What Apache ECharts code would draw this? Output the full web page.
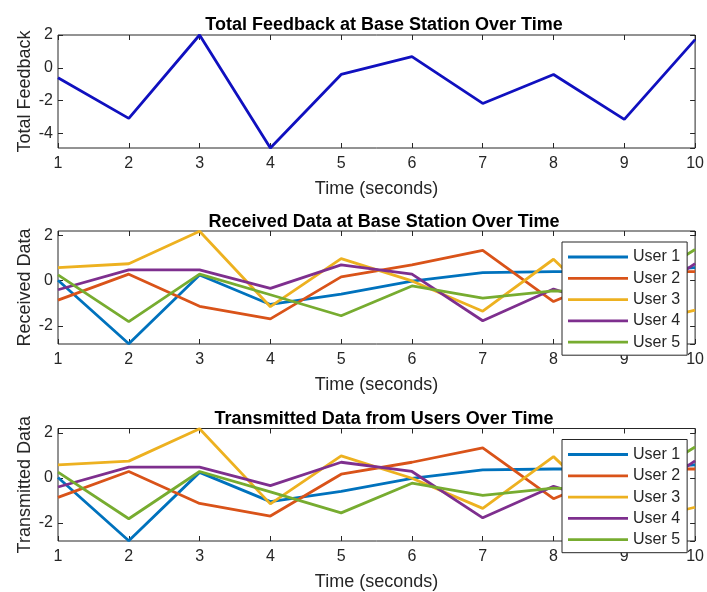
<!DOCTYPE html>
<html>
<head>
<meta charset="utf-8">
<script src="https://cdn.jsdelivr.net/npm/echarts@6/dist/echarts.min.js"></script>
<style>
html,body{margin:0;padding:0;background:#fff;}
#c{width:707px;height:592px;}
</style>
</head>
<body>
<div id="c"></div>
<script>
const time = [1, 2, 3, 4, 5, 6, 7, 8, 9, 10];
const totalFeedback = [-0.61, -3.09, 2.0, -4.9, -0.41, 0.68, -2.18, -0.41, -3.15, 1.72];
const user1 = [0.02, -2.79, 0.25, -1.05, -0.59, -0.02, 0.36, 0.40, 0.40, 0.58];
const user2 = [-0.86, 0.29, -1.13, -1.69, 0.17, 0.70, 1.34, -0.92, 0.40, 0.40];
const user3 = [0.58, 0.75, 2.19, -1.15, 0.98, -0.01, -1.35, 0.95, -2.05, -1.30];
const user4 = [-0.40, 0.48, 0.48, -0.34, 0.70, 0.29, -1.77, -0.37, -1.35, 0.76];
const user5 = [0.26, -1.81, 0.29, -0.62, -1.55, -0.23, -0.77, -0.45, -0.55, 1.38];
const userNames = ['User 1', 'User 2', 'User 3', 'User 4', 'User 5'];
const userColors = ['#0072BD', '#D95319', '#EDB120', '#7E2F8E', '#77AC30'];
const titles = ['Total Feedback at Base Station Over Time', 'Received Data at Base Station Over Time', 'Transmitted Data from Users Over Time'];
const yNames = ['Total Feedback', 'Received Data', 'Transmitted Data'];
const xName = 'Time (seconds)';

const FONT = "'Liberation Sans', Arial, sans-serif";
const AX = '#262626';
const userData = [user1, user2, user3, user4, user5];
const pairs = arr => time.map((t, i) => [t, arr[i]]);

const grids = [
  {left: 58, width: 642, top: 35, height: 113},
  {left: 58, width: 642, top: 231, height: 113},
  {left: 58, width: 642, top: 428.5, height: 113}
];
const yRanges = [[-4.9, 2.0], [-2.8, 2.2], [-2.8, 2.2]];
const titleY = [20, 217.5, 414];

const option = {
  animation: false,
  backgroundColor: '#fff',
  title: titles.map((t, i) => ({
    text: t, left: 379, top: titleY[i] - 11, textAlign: 'center',
    textStyle: {fontFamily: FONT, fontSize: 18, fontWeight: 'bold', color: '#000', lineHeight: 22}
  })),
  grid: grids.map(g => Object.assign({show: true, borderColor: AX, borderWidth: 1, backgroundColor: '#fff', containLabel: false}, g)),
  xAxis: [],
  yAxis: [],
  legend: [231, 428.5].map(top => ({
    data: userNames,
    orient: 'vertical',
    left: 562, top: top + 11,
    icon: 'path://M0,0 L60,0 L60,2.8 L0,2.8 Z',
    itemWidth: 60, itemHeight: 14, itemGap: 5.3,
    padding: [7, 7, 5, 6],
    borderColor: AX, borderWidth: 1, borderRadius: 0,
    backgroundColor: '#fff',
    textStyle: {fontFamily: FONT, fontSize: 16, color: AX},
    selectedMode: false
  })),
  series: []
};

grids.forEach((g, i) => {
  const [ymin, ymax] = yRanges[i];
  const maxIsTick = (ymax % 2 === 0);
  const minIsTick = (ymin % 2 === 0);
  option.xAxis.push({
    type: 'value', gridIndex: i, min: 1, max: 10, interval: 1, position: 'bottom',
    name: xName, nameLocation: 'middle', nameGap: 32, nameMoveOverlap: false,
    nameTextStyle: {fontFamily: FONT, fontSize: 18, color: AX},
    axisLine: {show: false, onZero: false},
    axisTick: {show: true, inside: true, length: 5, lineStyle: {color: AX}},
    axisLabel: {margin: 8, fontFamily: FONT, fontSize: 16, color: AX},
    splitLine: {show: false}
  });
  option.xAxis.push({
    type: 'value', gridIndex: i, min: 1, max: 10, interval: 1, position: 'top',
    axisLine: {show: false, onZero: false},
    axisTick: {show: true, inside: true, length: 5, lineStyle: {color: AX}},
    axisLabel: {show: false}, splitLine: {show: false}
  });
  option.yAxis.push({
    type: 'value', gridIndex: i, min: ymin, max: ymax, splitNumber: 3, position: 'left',
    name: yNames[i], nameLocation: 'middle', nameGap: 24, nameRotate: 90, nameMoveOverlap: false,
    nameTextStyle: {fontFamily: FONT, fontSize: 18, color: AX},
    axisLine: {show: false, onZero: false},
    axisTick: {show: true, inside: true, length: 5, lineStyle: {color: AX}},
    axisLabel: {margin: 5, fontFamily: FONT, fontSize: 16, color: AX, showMinLabel: minIsTick, showMaxLabel: maxIsTick},
    splitLine: {show: false}
  });
  option.yAxis.push({
    type: 'value', gridIndex: i, min: ymin, max: ymax, splitNumber: 3, position: 'right',
    axisLine: {show: false, onZero: false},
    axisTick: {show: true, inside: true, length: 5, lineStyle: {color: AX}},
    axisLabel: {show: false}, splitLine: {show: false}
  });
});

option.series.push({
  type: 'line', name: 'Total Feedback', xAxisIndex: 0, yAxisIndex: 0,
  data: pairs(totalFeedback), symbol: 'none',
  lineStyle: {color: '#1010bf', width: 2.8}, itemStyle: {color: '#1010bf'}
});
[1, 2].forEach(gi => {
  userData.forEach((arr, k) => {
    option.series.push({
      type: 'line', name: userNames[k], xAxisIndex: gi * 2, yAxisIndex: gi * 2,
      data: pairs(arr), symbol: 'none',
      lineStyle: {color: userColors[k], width: 2.8}, itemStyle: {color: userColors[k]}
    });
  });
});

const chart = echarts.init(document.getElementById('c'), null, {renderer: 'canvas'});
chart.setOption(option);
</script>
</body>
</html>
